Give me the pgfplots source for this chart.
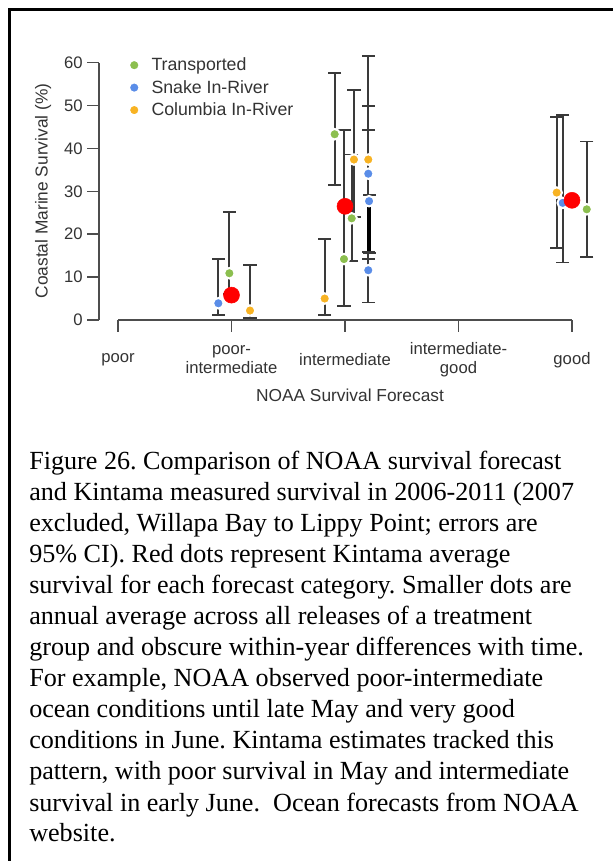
\documentclass[border=0pt]{standalone}
\usepackage{fontspec}
\setmainfont{Liberation Serif}
\newfontfamily\chartfont{Liberation Sans}
\usepackage{pgfplots}
\usepackage{pgfplotstable}
\pgfplotsset{compat=1.18}

\definecolor{tgreen}{HTML}{8CBF4F}
\definecolor{sblue}{HTML}{5A8DE8}
\definecolor{corange}{HTML}{F8B323}
\definecolor{kred}{HTML}{FF0000}
\definecolor{barcol}{HTML}{3A3A3A}
\definecolor{axiscol}{HTML}{4D4D4D}
\definecolor{txtcol}{HTML}{333333}

% x = forecast category (0 poor ... 4 good, jittered), y = survival (%), lo/hi = 95% CI
\pgfplotstableread{
x     y    lo   hi
0.981 10.9 6.0  25.2
1.909 43.3 31.4 57.6
1.991 14.2 3.3  44.3
2.059 23.7 13.7 38.6
4.130 25.8 14.6 41.6
}\transported
\pgfplotstableread{
x     y    lo   hi
0.884 3.9  1.2  14.2
2.205 34.1 14.2 49.8
2.205 11.6 4.1  44.3
3.918 27.3 13.4 47.8
}\snake
\pgfplotstableread{
x     y    lo   hi
2.212 27.7 15.6 29.1
}\snakeb
\pgfplotstableread{
x     y    lo   hi
1.163 2.2  0.4  12.8
1.821 5.0  1.2  18.8
2.079 37.4 24.0 53.6
2.205 37.4 15.8 61.5
3.865 29.7 16.8 47.3
}\columbia
\pgfplotstableread{
x   y
1.0 5.8
2.0 26.5
4.0 27.9
}\kintama

\begin{document}
\begin{tikzpicture}
\useasboundingbox (0,0) rectangle (459.75pt,645.75pt);
\draw[line width=2.25pt] (7.125pt,0) -- (7.125pt,638.625pt) -- (459.75pt,638.625pt);

\begin{axis}[
    at={(74.25pt,405.75pt)}, anchor=south west,
    scale only axis, width=380.29pt, height=199.49pt,
    xmin=-0.1674, xmax=4.3, ymin=0, ymax=62,
    clip=false,
    axis x line*=bottom, axis y line*=left,
    axis line style={draw=none},
    tick align=outside,
    major tick length=8.8pt,
    tick style={draw=axiscol, line width=1.1pt},
    xtick={0,1,2,3,4},
    xticklabels={poor, {poor-\\intermediate}, intermediate, {intermediate-\\good}, good},
    ytick={0,10,20,30,40,50,60},
    /pgf/number format/assume math mode=true,
    xticklabel style={font=\chartfont\fontsize{12.5}{13.7}\selectfont, text=txtcol, align=center, anchor=center, yshift=-21pt},
    yticklabel style={font=\chartfont\fontsize{12.5}{14}\selectfont, text=txtcol},
    xlabel={NOAA Survival Forecast},
    ylabel={Coastal Marine Survival (\%)},
    every axis x label/.style={at={(axis description cs:0.495,-0.282)}, anchor=center, font=\chartfont\fontsize{13}{15}\selectfont, text=txtcol},
    every axis y label/.style={at={(axis description cs:-0.1104,0.485)}, anchor=center, rotate=90, font=\chartfont\fontsize{13}{15}\selectfont, text=txtcol},
    legend style={at={(axis description cs:0.0586,0.992)}, anchor=north west, draw=none, fill=none,
        font=\chartfont\fontsize{13.3}{15}\selectfont, text=txtcol, row sep=3.7pt, column sep=8pt, inner sep=0pt,
        nodes={inner sep=1pt}},
    legend cell align=left,
    legend image code/.code={\draw[#1] plot coordinates {(0pt,0pt)};},
    ebar/.style={draw=none, mark=none, forget plot,
        error bars/.cd, y dir=both, y explicit, error mark=none,
        error bar style={draw=barcol, line width=1.5pt}},
    cap/.style={only marks, mark=-, mark size=4.9pt, forget plot,
        mark options={draw=barcol, line width=1.3pt}},
    dot/.style={only marks, mark=*, mark size=3.95pt,
        mark options={fill=#1, draw=white, line width=1.5pt}},
]
% error bars and caps first, dots on top
\addplot[ebar] table[x=x, y=y, y error plus expr=\thisrow{hi}-\thisrow{y}, y error minus expr=\thisrow{y}-\thisrow{lo}] {\transported};
\addplot[ebar] table[x=x, y=y, y error plus expr=\thisrow{hi}-\thisrow{y}, y error minus expr=\thisrow{y}-\thisrow{lo}] {\snake};
\addplot[ebar] table[x=x, y=y, y error plus expr=\thisrow{hi}-\thisrow{y}, y error minus expr=\thisrow{y}-\thisrow{lo}] {\columbia};
\addplot[ebar] table[x=x, y=y, y error plus expr=\thisrow{hi}-\thisrow{y}, y error minus expr=\thisrow{y}-\thisrow{lo}] {\snakeb};
% heavy black lower half of one interval
\addplot[ebar, /pgfplots/error bars/y dir=minus, /pgfplots/error bars/error bar style={draw=black, line width=2.6pt}]
    table[x=x, y=y, y error plus expr=0, y error minus expr=\thisrow{y}-\thisrow{lo}-0.4] {\snakeb};

\addplot[cap] table[x=x, y=lo] {\transported};
\addplot[cap] table[x=x, y=hi] {\transported};
\addplot[cap] table[x=x, y=lo] {\snake};
\addplot[cap] table[x=x, y=hi] {\snake};
\addplot[cap] table[x=x, y=lo] {\snakeb};
\addplot[cap] table[x=x, y=hi] {\snakeb};
\addplot[cap] table[x=x, y=lo] {\columbia};
\addplot[cap] table[x=x, y=hi] {\columbia};

\addplot[dot=tgreen] table[x=x, y=y] {\transported};
\addlegendentry{Transported}
\addplot[dot=sblue] table[x=x, y=y] {\snake};
\addlegendentry{Snake In-River}
\addplot[dot=corange] table[x=x, y=y] {\columbia};
\addlegendentry{Columbia In-River}
\addplot[dot=sblue, forget plot] table[x=x, y=y] {\snakeb};
\addplot[only marks, mark=*, mark size=6pt, mark options={fill=kred, draw=kred}, forget plot] table[x=x, y=y] {\kintama};

\draw[axiscol, line width=1.1pt] (axis cs:-0.1674,0) -- (axis cs:-0.1674,60);
\draw[axiscol, line width=1.1pt] (axis cs:0,0) -- (axis cs:4,0);
\end{axis}

\begin{scope}[every node/.style={anchor=base west, inner sep=0pt, font=\fontsize{19.6}{23.25}\selectfont\frenchspacing}]
\node at (21.75pt,293.25pt) {Figure 26. Comparison of NOAA survival forecast};
\node at (21.75pt,270.0pt) {and Kintama measured survival in 2006-2011 (2007};
\node at (21.75pt,246.75pt) {excluded, Willapa Bay to Lippy Point; errors are};
\node at (21.75pt,223.5pt) {95\% CI). Red dots represent Kintama average};
\node at (21.75pt,200.25pt) {survival for each forecast category. Smaller dots are};
\node at (21.75pt,177.0pt) {annual average across all releases of a treatment};
\node at (21.75pt,153.75pt) {group and obscure within-year differences with time.};
\node at (21.75pt,130.5pt) {For example, NOAA observed poor-intermediate};
\node at (21.75pt,107.25pt) {ocean conditions until late May and very good};
\node at (21.75pt,84.0pt) {conditions in June. Kintama estimates tracked this};
\node at (21.75pt,60.75pt) {pattern, with poor survival in May and intermediate};
\node at (21.75pt,37.5pt) {survival in early June.\ \ Ocean forecasts from NOAA};
\node at (21.75pt,14.25pt) {website.};
\end{scope}
\end{tikzpicture}
\end{document}
